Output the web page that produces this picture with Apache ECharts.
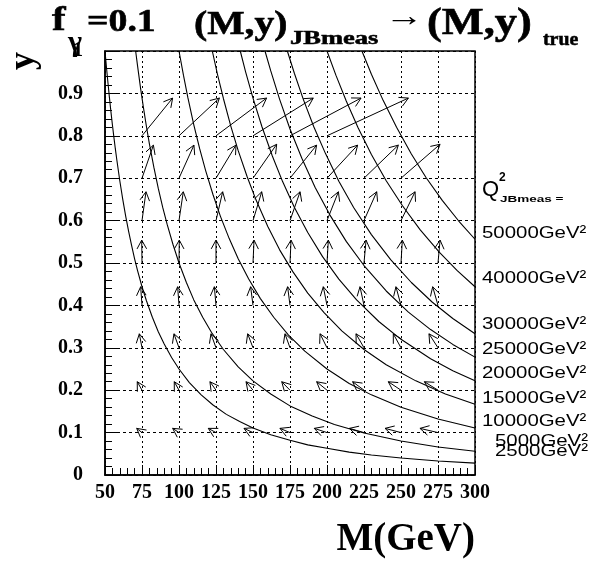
<!DOCTYPE html>
<html>
<head>
<meta charset="utf-8">
<script src="https://cdn.jsdelivr.net/npm/echarts@6/dist/echarts.min.js"></script>
<style>
  html, body { margin: 0; padding: 0; background: #fff; }
  #chart { width: 589px; height: 564px; }
</style>
</head>
<body>
<div id="chart"></div>
<script>
// lines of constant Q2_JBmeas as [M, y]
const q2_2500 = [[50, 1.0], [51, 0.961], [52, 0.925], [53, 0.89], [54, 0.857], [55, 0.826], [56, 0.797], [57, 0.769], [58, 0.743], [60, 0.694], [62, 0.65], [64, 0.61], [66, 0.574], [68, 0.541], [70, 0.51], [72, 0.482], [75, 0.444], [78, 0.411], [82, 0.372], [86, 0.338], [90, 0.309], [95, 0.277], [100, 0.25], [107, 0.218], [115, 0.189], [123, 0.165], [132, 0.143], [141, 0.126], [150, 0.111], [162, 0.095], [175, 0.082], [187, 0.071], [200, 0.063], [215, 0.054], [230, 0.047], [250, 0.04], [275, 0.033], [300, 0.028]];
const q2_5000 = [[70.7, 1.0], [72, 0.965], [74, 0.913], [76, 0.866], [78, 0.822], [80, 0.781], [83, 0.726], [86, 0.676], [89, 0.631], [92, 0.591], [96, 0.543], [100, 0.5], [105, 0.454], [110, 0.413], [116, 0.372], [122, 0.336], [130, 0.296], [140, 0.255], [150, 0.222], [162, 0.191], [175, 0.163], [190, 0.139], [205, 0.119], [225, 0.099], [250, 0.08], [275, 0.066], [300, 0.056]];
const q2_10000 = [[100, 1.0], [103, 0.943], [106, 0.89], [110, 0.826], [114, 0.769], [118, 0.718], [123, 0.661], [128, 0.61], [134, 0.557], [140, 0.51], [147, 0.463], [155, 0.416], [164, 0.372], [174, 0.33], [185, 0.292], [200, 0.25], [215, 0.216], [230, 0.189], [250, 0.16], [275, 0.132], [300, 0.111]];
const q2_15000 = [[122.5, 1.0], [126, 0.945], [130, 0.888], [135, 0.823], [140, 0.765], [146, 0.704], [152, 0.649], [160, 0.586], [168, 0.531], [177, 0.479], [187, 0.429], [198, 0.383], [210, 0.34], [225, 0.296], [240, 0.26], [260, 0.222], [280, 0.191], [300, 0.167]];
const q2_20000 = [[141.4, 1.0], [145, 0.951], [150, 0.889], [156, 0.822], [163, 0.753], [170, 0.692], [178, 0.631], [187, 0.572], [197, 0.515], [208, 0.462], [220, 0.413], [235, 0.362], [250, 0.32], [270, 0.274], [285, 0.246], [300, 0.222]];
const q2_25000 = [[158.1, 1.0], [162, 0.953], [168, 0.886], [175, 0.816], [183, 0.747], [192, 0.678], [202, 0.613], [213, 0.551], [225, 0.494], [240, 0.434], [255, 0.384], [270, 0.343], [285, 0.308], [300, 0.278]];
const q2_30000 = [[173.2, 1.0], [178, 0.947], [184, 0.886], [191, 0.822], [199, 0.758], [208, 0.693], [218, 0.631], [230, 0.567], [243, 0.508], [257, 0.454], [271, 0.408], [285, 0.369], [300, 0.333]];
const q2_40000 = [[200, 1.0], [206, 0.943], [213, 0.882], [221, 0.819], [230, 0.756], [240, 0.694], [251, 0.635], [263, 0.578], [276, 0.525], [288, 0.482], [300, 0.444]];
const q2_50000 = [[223.6, 1.0], [230, 0.945], [238, 0.883], [247, 0.82], [257, 0.757], [267, 0.701], [278, 0.647], [289, 0.599], [300, 0.556]];
const q2Curves = [q2_2500, q2_5000, q2_10000, q2_15000, q2_20000, q2_25000, q2_30000, q2_40000, q2_50000];

// arrows (M, y)_JBmeas -> (M, y)_true : [Mmeas, ymeas, Mtrue, ytrue]
const arrowsY08 = [[75, 0.8, 95.7, 0.889], [100, 0.8, 127.3, 0.889], [125, 0.8, 159.2, 0.889], [150, 0.8, 190.7, 0.889], [175, 0.8, 223, 0.889], [200, 0.8, 255, 0.889]];
const arrowsY07 = [[75, 0.7, 82.7, 0.778], [100, 0.7, 110.1, 0.778], [125, 0.7, 138.5, 0.778], [150, 0.7, 166, 0.78], [175, 0.7, 193, 0.778], [200, 0.7, 220.7, 0.778], [225, 0.7, 248.2, 0.778], [250, 0.7, 276.4, 0.78]];
const arrowsY06 = [[75, 0.6, 77.7, 0.668], [100, 0.6, 102.9, 0.668], [125, 0.6, 129.5, 0.668], [150, 0.6, 155.9, 0.668], [175, 0.6, 181.8, 0.668], [200, 0.6, 207.7, 0.668], [225, 0.6, 233.6, 0.668], [250, 0.6, 259.5, 0.668]];
const arrowsY05 = [[75, 0.5, 74.8, 0.554], [100, 0.5, 100.2, 0.554], [125, 0.5, 125, 0.554], [150, 0.5, 150.7, 0.554], [175, 0.5, 175.7, 0.554], [200, 0.5, 200.9, 0.554], [225, 0.5, 226.4, 0.554], [250, 0.5, 250.9, 0.554], [275, 0.5, 276.4, 0.554]];
const arrowsY04 = [[75, 0.4, 74.1, 0.444], [100, 0.4, 99.1, 0.444], [125, 0.4, 123.9, 0.444], [150, 0.4, 148.4, 0.444], [175, 0.4, 173.4, 0.444], [200, 0.4, 197.5, 0.444], [225, 0.4, 222.3, 0.444], [250, 0.4, 246.6, 0.444], [275, 0.4, 271.4, 0.444]];
const arrowsY03 = [[75, 0.3, 73.2, 0.333], [100, 0.3, 96.6, 0.333], [125, 0.3, 121.6, 0.333], [150, 0.3, 146.4, 0.333], [175, 0.3, 171.6, 0.333], [200, 0.3, 195.3, 0.333], [225, 0.3, 219.6, 0.333], [250, 0.3, 244.8, 0.333], [275, 0.3, 268.9, 0.333]];
const arrowsY02 = [[75, 0.2, 71.8, 0.22], [100, 0.2, 96.8, 0.22], [125, 0.2, 120.9, 0.22], [150, 0.2, 145.3, 0.22], [175, 0.2, 169.4, 0.22], [200, 0.2, 193, 0.22], [225, 0.2, 217.3, 0.22], [250, 0.2, 241.4, 0.22], [275, 0.2, 265.8, 0.22]];
const arrowsY01 = [[75, 0.1, 71.4, 0.11], [100, 0.1, 95.7, 0.11], [125, 0.1, 119.8, 0.11], [150, 0.1, 143.9, 0.11], [175, 0.1, 168.2, 0.11], [200, 0.1, 191.4, 0.11], [225, 0.1, 215.1, 0.11], [250, 0.1, 239.2, 0.11], [275, 0.1, 262.8, 0.11]];
const arrows = [].concat(arrowsY08, arrowsY07, arrowsY06, arrowsY05, arrowsY04, arrowsY03, arrowsY02, arrowsY01);

// labels at the right edge, top to bottom
const q2Labels = ['50000GeV²', '40000GeV²', '30000GeV²', '25000GeV²', '20000GeV²', '15000GeV²', '10000GeV²', '5000GeV²', '2500GeV²'];

const serif = '"Liberation Serif", "Times New Roman", serif';
const sans = '"Liberation Sans", Arial, sans-serif';

const chart = echarts.init(document.getElementById('chart'), null, { renderer: 'canvas' });

// arrow drawn as a line with an open head
const renderArrow = (params, api) => {
  const p0 = api.coord([api.value(0), api.value(1)]);
  const p1 = api.coord([api.value(2), api.value(3)]);
  const ang = Math.atan2(p1[1] - p0[1], p1[0] - p0[0]);
  const len = 10, half = 0.5;
  const h1 = [p1[0] - len * Math.cos(ang - half), p1[1] - len * Math.sin(ang - half)];
  const h2 = [p1[0] - len * Math.cos(ang + half), p1[1] - len * Math.sin(ang + half)];
  return {
    type: 'group',
    children: [
      { type: 'line', shape: { x1: p0[0], y1: p0[1], x2: p1[0], y2: p1[1] }, style: { stroke: '#000', lineWidth: 1 } },
      { type: 'polyline', shape: { points: [h1, p1, h2] }, style: { stroke: '#000', fill: null, lineWidth: 1 } }
    ]
  };
};

const labelY = [233.5, 278, 324, 349, 373, 398, 421, 441.5, 451];
const labelX = [482, 482, 482, 482, 482, 482, 482, 495, 495];

const txt = (text, x, y, size, opts = {}) => ({
  type: 'text',
  x, y,
  scaleX: opts.sx || 1,
  rotation: opts.rot || 0,
  style: {
    text,
    font: `${opts.weight || 'bold'} ${size}px ${opts.family || serif}`,
    fill: '#000',
    stroke: opts.heavy ? '#000' : null,
    lineWidth: opts.heavy || 0,
    align: opts.align || 'left',
    verticalAlign: 'middle'
  },
  z: 100
});

const graphics = [
  txt('f', 52, 21, 34, { sx: 1.2, heavy: 0.6 }),
  txt('γ', 68, 43, 30),
  txt('=0.1', 87, 23, 32, { sx: 1.18, heavy: 0.6 }),
  txt('(M,y)', 194, 25, 33, { sx: 1.2, heavy: 0.6 }),
  txt('JBmeas', 290, 39, 18, { sx: 1.47, heavy: 0.5 }),
  txt('→', 385, 18, 31, { sx: 1.25 }),
  txt('(M,y)', 427, 24, 37, { sx: 1.2, heavy: 0.6 }),
  txt('true', 543, 40, 18, { sx: 1.1, heavy: 0.5 }),
  txt('y', 24, 61, 36, { rot: Math.PI / 2, align: 'center' }),
  txt('M(GeV)', 475, 540, 39, { align: 'right' }),
  txt('Q', 482, 190, 22, { weight: 'normal', family: sans }),
  txt('2', 499, 178, 12, { family: sans }),
  txt('JBmeas =', 500, 200, 9, { family: sans, sx: 1.5 })
];
q2Labels.forEach((t, i) => {
  graphics.push(txt(t, labelX[i], labelY[i], 17, { weight: 'normal', family: sans, sx: 1.2 }));
});

const curveSeries = q2Curves.map(d => ({
  type: 'line',
  data: d,
  showSymbol: false,
  smooth: false,
  lineStyle: { color: '#000', width: 1.1 },
  silent: true,
  z: 3
}));

chart.setOption({
  animation: false,
  backgroundColor: '#fff',
  grid: {
    left: 105, right: 114, top: 51, bottom: 89,
    show: true, borderColor: '#000', borderWidth: 1.5
  },
  xAxis: {
    type: 'value', min: 50, max: 300, interval: 25,
    axisLine: { show: true, lineStyle: { color: '#000', width: 1.5 } },
    axisTick: { show: true, inside: true, length: 10, lineStyle: { color: '#000' } },
    minorTick: { show: true, splitNumber: 5, length: 7, lineStyle: { color: '#000' } },
    splitLine: { show: true, lineStyle: { color: '#000', type: [2, 3], width: 1 } },
    axisLabel: { color: '#000', fontFamily: serif, fontWeight: 'bold', fontSize: 20, margin: 8 }
  },
  yAxis: {
    type: 'value', min: 0, max: 1, interval: 0.1,
    axisLine: { show: true, lineStyle: { color: '#000', width: 1.5 } },
    axisTick: { show: true, inside: true, length: 14, lineStyle: { color: '#000' } },
    minorTick: { show: true, splitNumber: 5, length: 7, lineStyle: { color: '#000' } },
    splitLine: { show: true, lineStyle: { color: '#000', type: [3, 3], width: 1 } },
    axisLabel: {
      color: '#000', fontFamily: serif, fontWeight: 'bold', fontSize: 20, margin: 22,
      formatter: v => (v === 0 || v === 1) ? String(v) : v.toFixed(1)
    }
  },
  series: curveSeries.concat([{
    type: 'custom',
    renderItem: renderArrow,
    data: arrows,
    encode: { x: [0, 2], y: [1, 3] },
    silent: true,
    z: 4
  }]),
  graphic: graphics
});
</script>
</body>
</html>
